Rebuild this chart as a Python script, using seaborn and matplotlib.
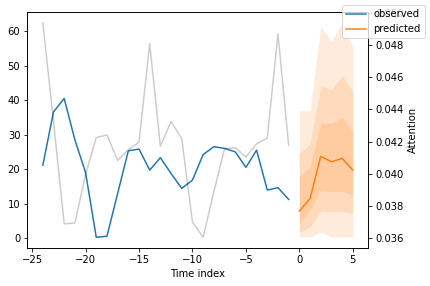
import numpy as np
import pandas as pd
import matplotlib
matplotlib.use("Agg")
import matplotlib.pyplot as plt
import seaborn as sns

# ---- data ----
obs_x = list(range(-24, 0))
observed = [21.1, 36.6, 40.5, 28.5, 19.0, 0.2, 0.5, 12.9, 25.3, 25.8, 19.7, 23.3,
            18.7, 14.4, 16.8, 24.2, 26.5, 26.0, 25.0, 20.5, 25.5, 13.9, 14.6, 11.2]
attention = [0.04940, 0.04327, 0.03686, 0.03691, 0.03994, 0.04224, 0.04241, 0.04082,
             0.04149, 0.04196, 0.04811, 0.04170, 0.04325, 0.04217, 0.03697, 0.03602,
             0.03886, 0.04155, 0.04161, 0.04103, 0.04185, 0.04222, 0.04873, 0.04177]
pred_x = [0, 1, 2, 3, 4, 5]
predicted = [7.8, 11.4, 23.7, 22.1, 23.1, 19.7]
q02 = [0.3, 0.3, 1.7, 0.3, 0.3, 0.3]
q10 = [1.7, 3.2, 7.8, 7.6, 7.8, 7.1]
q25 = [4.2, 8.1, 13.9, 13.4, 13.6, 12.4]
q75 = [17.7, 20.6, 33.3, 33.3, 35.0, 30.8]
q90 = [24.5, 27.2, 44.3, 43.0, 47.0, 42.5]
q98 = [36.9, 36.9, 61.3, 57.0, 62.4, 55.1]

obs_df = pd.DataFrame({"x": obs_x, "y": observed})
att_df = pd.DataFrame({"x": obs_x, "y": attention})
pred_df = pd.DataFrame({"x": pred_x, "y": predicted})

BLUE = "#1f77b4"
ORANGE = "#ff7f0e"

fig = plt.figure(figsize=(430 / 72, 286 / 72), dpi=72)
ax = fig.add_axes([0.0635, 0.1329, 0.793, 0.8241])

sns.lineplot(data=obs_df, x="x", y="y", ax=ax, color=BLUE, label="observed")
sns.lineplot(data=pred_df, x="x", y="y", ax=ax, color=ORANGE, label="predicted")
for lo, hi in [(q02, q98), (q10, q90), (q25, q75)]:
    ax.fill_between(pred_x, lo, hi, color=ORANGE, alpha=0.15, linewidth=0)

handles, labels = ax.get_legend_handles_labels()
if ax.get_legend() is not None:
    ax.get_legend().remove()

ax.set_xlabel("Time index")
ax.set_ylabel("")

ax2 = ax.twinx()
sns.lineplot(data=att_df, x="x", y="y", ax=ax2, color="k", alpha=0.2, legend=False)
ax2.set_ylabel("Attention")
ax2.set_xlabel("")

fig.legend(handles[:2], labels[:2], loc="upper right")

fig.savefig("out.png", dpi=72)
